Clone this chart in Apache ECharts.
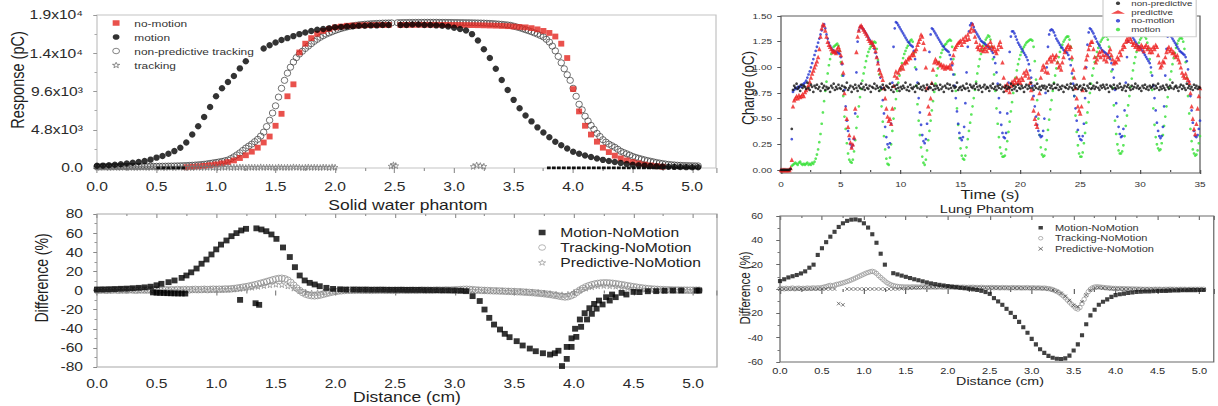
<!DOCTYPE html>
<html>
<head>
<meta charset="utf-8">
<title>Ion chamber response with and without motion</title>
<script src="https://cdn.jsdelivr.net/npm/echarts@6/dist/echarts.min.js"></script>
<style>
  html, body { margin: 0; padding: 0; background: #fff; overflow: hidden; }
  /* the figure is laid out narrow and widened horizontally */
  #chart { width: 974.4px; height: 406px; transform: scaleX(1.25); transform-origin: 0 0; }
</style>
</head>
<body>
<div id="chart"></div>
<script>
// ---------- Solid water phantom: response profiles (pC) vs distance (cm) ----------
const respMotionStart = 0, respMotionStep = 0.05;
const respMotion = [
  280,300,340,400,470,560,650,760,880,1050,
  1300,1500,1780,2120,2550,3200,4200,5250,6400,7650,
  9000,10000,10800,11550,12500,13400,null,null,15000,15400,
  15750,16050,16300,16550,16800,17000,17200,17350,17450,17550,
  17650,17700,17750,17800,17850,17850,17900,17900,17950,17950,
  null,17950,17950,18000,18000,17950,17950,17900,17850,17750,
  17600,17450,17250,16800,16000,14900,13800,12450,11050,9800,
  8550,7500,6600,5850,5100,4450,3850,3300,2850,2450,
  2050,1800,1580,1380,1180,1020,880,750,620,510,
  420,350,300,260,220,190,160,140,120,110,
  100,100
];
// stretches of motion readings that sit on the floor (x ranges, value 0)
const respMotionFloor = [[0.50, 0.74], [3.78, 5.05]];

const respNoMotionStart = 0.75, respNoMotionStep = 0.05;
const respNoMotion = [
  100,150,200,270,350,450,580,740,950,1250,
  1600,2050,2550,3200,3950,5300,6800,9000,10500,14500,
  15600,16300,16850,17200,17450,17650,17750,17850,17880,17900,
  17920,17930,17940,17950,17950,null,17950,17960,17960,17970,
  17970,17970,17970,17960,17960,17950,17950,17940,17930,17920,
  17900,17880,17860,17830,17800,17750,17700,17650,17550,17400,
  17200,16950,16500,15600,13800,9900,7100,5300,4200,3300,
  2550,2000,1550,1200,950,750,580,430,320,230,
  160
];

const respNonPredStart = 0, respNonPredStep = 0.025;
const respNonPred = [
  150,150,155,160,160,165,170,170,175,180,180,185,190,190,195,200,200,205,210,210,
  215,220,225,230,240,245,255,265,275,290,305,325,345,370,400,430,470,520,580,640,
  700,760,830,910,1000,1180,1400,1640,1900,2200,2500,2750,3000,3300,3600,4000,4500,5200,6000,6900,
  7800,8900,10000,11000,11900,12650,13300,13850,14300,14650,15000,15300,15600,15900,16150,16400,16600,16800,16950,17100,
  17250,17380,17500,17600,17700,17780,17850,17910,17960,18000,18040,18070,18100,18120,18140,18160,18180,18190,18200,18210,
  null,18230,18240,18250,18250,18260,18260,18270,18270,18270,18280,18280,18280,18280,18280,18270,18270,18270,18260,18260,
  18250,18250,18240,18240,18230,18230,18220,18210,18200,18190,18180,18160,18140,18120,18090,18060,18030,17990,17950,17900,
  17800,17700,17600,17480,17350,17230,17100,16950,16800,16630,16450,16150,15800,15300,14700,14000,13200,12450,11700,11000,
  10000,9000,8000,7300,6500,5900,5350,4850,4350,3950,3550,3250,3000,2800,2600,2350,2100,1930,1780,1620,
  1450,1330,1220,1120,1020,930,850,770,690,620,560,500,450,410,380,350,330,310,300,290,
  280,270,260
];

const respTrackingStart = 0, respTrackingStep = 0.025;
const respTracking = [
  120,80,150,100,60,130,90,110,70,140,100,80,120,60,110,90,130,70,100,150,
  80,120,90,60,140,100,70,110,130,80,90,120,60,100,140,70,110,90,130,80,
  100,60,120,90,140,70,110,80,130,100,60,120,90,110,70,140,80,100,120,90,
  60,130,100,80,110,70,140,90,120,60,100,130,80,110,90,70,120,100,60,140,
  100
];
const respTrackingExtraX = [2.47, 2.49, 2.51, 3.16, 3.19, 3.22, 3.25];
const respTrackingExtraY = [250, 400, 300, 200, 380, 300, 220];

const respTickValues = [0, 4800, 9600, 14400, 19200];
const respTickLabels = ['0.0', '4.8x10\u00b3', '9.6x10\u00b3', '1.4x10\u2074', '1.9x10\u2074'];

// ---------- Solid water phantom: differences (%) ----------
const swMotionDiffX = [
  0.00,0.05,0.10,0.15,0.20,0.25,0.30,0.35,0.40,0.45,
  0.47,0.50,0.53,0.56,0.59,0.62,0.65,0.68,0.71,0.74,
  0.50,0.54,0.60,0.65,0.71,0.75,0.79,0.835,0.877,0.918,0.96,1.00,1.04,1.086,1.128,1.17,1.21,1.25,
  1.337,1.379,1.42,1.463,1.505,1.56,1.617,1.66,1.70,1.742,1.784,1.826,1.868,1.924,1.98,2.04,2.09,2.15,2.20,2.25,
  2.30,2.35,2.40,2.45,2.50,2.55,2.60,2.65,2.70,2.75,2.80,2.85,2.90,2.95,3.00,3.05,
  1.20,1.33,1.36,
  3.096,3.15,3.21,3.25,3.29,3.33,3.38,3.42,3.46,3.52,3.57,3.63,3.68,3.74,3.80,3.84,3.87,
  3.90,3.94,3.98,4.02,4.06,4.11,4.15,4.19,4.24,4.30,4.35,4.44,4.55,4.69,4.83,5.03,
  3.94,3.98,4.01,4.05,4.09,4.13,4.17,4.21,4.27,4.32,4.40,4.50,4.62,4.76,4.90,5.05
];
const swMotionDiffY = [
  1.0,1.1,1.3,1.5,1.8,2.0,2.4,2.8,3.3,4.0,
  -2.0,-2.3,-2.5,-2.6,-2.8,-2.9,-3.0,-3.1,-3.1,-3.2,
  5.5,7.0,8.7,10.5,13.2,15.7,19.0,23.0,28.0,32.4,37.7,43.0,48.0,52.3,56.8,60.0,62.8,64.5,
  65.0,63.8,62.0,58.6,54.0,45.0,35.0,24.4,15.7,10.5,8.0,6.3,4.5,2.8,1.7,1.3,1.0,1.0,0.9,0.9,
  0.8,0.8,0.8,0.7,0.7,0.7,0.6,0.6,0.6,0.5,0.5,0.4,0.3,0.2,0.0,-0.3,
  -9.8,-13.3,-15.0,
  -0.7,-5.9,-11.0,-19.9,-28.6,-35.6,-40.8,-45.3,-48.8,-53.0,-57.5,-60.7,-63.5,-65.6,-67.0,-65.6,-63.0,
  -79.0,-71.5,-59.0,-48.5,-38.0,-30.3,-24.4,-19.0,-14.6,-10.5,-7.0,-4.2,-1.7,-0.7,0.0,0.0,
  -59.0,-50.0,-40.0,-30.3,-23.7,-18.5,-14.0,-10.5,-7.0,-4.2,-2.5,-1.5,-0.8,-0.3,0.0,0.0
];

const swTrackDiffStart = 0, swTrackDiffStep = 0.025;
const swTrackDiff = [
  0.5,0.3,0.6,0.2,0.5,0.4,0.7,0.3,0.5,0.6,0.4,0.8,0.5,0.3,0.6,0.7,0.4,0.6,0.5,0.8,
  0.6,0.4,0.7,0.9,0.5,0.8,0.6,1.0,0.7,0.9,1.1,0.8,1.0,1.2,0.9,1.1,1.3,1.0,1.2,1.4,
  1.2,1.4,1.3,1.6,1.5,1.8,2.1,2.5,3.0,3.5,4.0,4.6,5.3,6.0,6.8,7.6,8.5,9.4,10.3,11.2,
  12.0,12.6,12.8,12.2,10.8,8.5,5.5,2.5,0.0,-2.2,-3.8,-4.8,-5.4,-5.6,-5.3,-4.7,-3.9,-3.1,-2.3,-1.6,
  -1.0,-0.6,-0.3,0.0,0.2,0.3,0.2,0.4,0.3,0.2,0.4,0.3,0.1,0.3,0.2,0.4,0.3,0.2,0.3,0.1,
  0.3,0.2,0.4,0.3,0.2,0.3,0.4,0.2,0.3,0.5,0.3,0.4,0.2,0.3,0.5,0.4,0.3,0.6,0.4,0.5,
  0.7,0.8,1.0,1.2,1.3,1.1,0.9,0.6,0.4,0.2,0.1,0.0,-0.2,-0.3,-0.4,-0.5,-0.6,-0.8,-0.9,-1.0,
  -1.1,-1.3,-1.4,-1.6,-1.8,-2.0,-2.2,-2.5,-2.8,-3.1,-3.4,-3.8,-4.2,-4.7,-5.2,-5.8,-6.4,-6.8,-6.5,-5.5,
  -4.0,-1.8,0.4,2.2,3.8,5.0,6.0,6.8,7.4,7.8,8.0,8.0,7.8,7.5,7.1,6.6,6.1,5.6,5.0,4.5,
  4.0,3.5,3.0,2.6,2.2,1.9,1.6,1.4,1.2,1.0,0.9,0.8,0.7,0.6,0.5,0.5,0.4,0.4,0.3,0.3,
  0.3,0.3,0.3
];

const swPredDiffStart = 0, swPredDiffStep = 0.05;
const swPredDiff = [
  0.2,0.3,0.1,0.4,0.2,0.3,0.5,0.2,0.4,0.3,
  0.4,0.3,0.5,0.4,0.6,0.5,0.7,0.6,0.8,0.7,
  0.9,1.0,1.2,1.5,2.0,2.6,3.4,4.3,5.2,6.0,
  6.6,6.2,4.8,2.5,0.0,-1.8,-2.6,-2.4,-1.6,-0.8,
  -0.3,0.0,0.2,0.1,0.3,0.2,0.1,0.3,0.2,0.2,
  0.1,0.3,0.2,0.2,0.3,0.1,0.2,0.3,0.2,0.4,
  0.5,0.7,0.5,0.3,0.1,-0.1,-0.3,-0.4,-0.6,-0.8,
  -1.0,-1.2,-1.5,-1.8,-2.2,-2.7,-3.3,-4.0,-4.5,-4.0,
  -2.0,0.5,2.5,4.0,5.0,5.3,5.0,4.5,3.8,3.0,
  2.4,1.8,1.4,1.0,0.8,0.6,0.5,0.4,0.3,0.3,
  0.2,0.2
];

// ---------- Lung phantom: charge (pC) vs time (s), 0.1 s sampling ----------
const lungStep = 0.1;
const lungNonPredStart = 0;
const lungNonPred = [
  0,0,0,0,0,0,0,0,0.01,0.40,
  0.78,0.82,0.80,0.84,0.79,0.81,0.77,0.83,0.80,0.82,
  0.81,0.79,0.85,0.80,0.78,0.83,0.81,0.76,0.82,0.80,
  0.83,0.79,0.81,0.77,0.84,0.80,0.82,0.78,0.81,0.79,
  0.80,0.76,0.82,0.80,0.84,0.78,0.81,0.79,0.83,0.80,
  0.79,0.82,0.77,0.81,0.80,0.85,0.78,0.80,0.82,0.76,
  0.81,0.79,0.83,0.80,0.77,0.82,0.80,0.84,0.79,0.81,
  0.78,0.83,0.80,0.79,0.82,0.76,0.81,0.80,0.84,0.79,
  0.82,0.80,0.77,0.81,0.79,0.83,0.80,0.78,0.82,0.81,
  0.80,0.84,0.78,0.81,0.76,0.82,0.79,0.83,0.80,0.77,
  0.81,0.79,0.82,0.80,0.85,0.78,0.81,0.77,0.83,0.80,
  0.79,0.81,0.76,0.82,0.80,0.84,0.79,0.81,0.78,0.82,
  0.80,0.77,0.83,0.79,0.81,0.80,0.84,0.78,0.82,0.79,
  0.82,0.80,0.78,0.83,0.79,0.81,0.76,0.82,0.80,0.84,
  0.79,0.83,0.80,0.77,0.82,0.80,0.81,0.85,0.78,0.80,
  0.81,0.78,0.82,0.80,0.79,0.84,0.80,0.77,0.83,0.81,
  0.80,0.82,0.79,0.84,0.81,0.78,0.82,0.80,0.76,0.81,
  0.83,0.79,0.81,0.80,0.77,0.82,0.80,0.84,0.79,0.81,
  0.78,0.82,0.80,0.83,0.79,0.81,0.76,0.80,0.82,0.79,
  0.81,0.80,0.84,0.78,0.82,0.79,0.81,0.77,0.83,0.80,
  0.79,0.82,0.80,0.76,0.81,0.83,0.79,0.82,0.80,0.85,
  0.80,0.78,0.82,0.80,0.84,0.79,0.81,0.78,0.82,0.80,
  0.82,0.79,0.81,0.77,0.83,0.80,0.82,0.79,0.84,0.80,
  0.80,0.83,0.78,0.81,0.79,0.82,0.76,0.81,0.80,0.83,
  0.79,0.81,0.84,0.80,0.78,0.82,0.80,0.83,0.79,0.81,
  0.82,0.78,0.80,0.83,0.79,0.77,0.82,0.80,0.84,0.79,
  0.80,0.82,0.79,0.81,0.85,0.80,0.78,0.82,0.80,0.83,
  0.81,0.79,0.83,0.80,0.76,0.82,0.81,0.79,0.83,0.80,
  0.79,0.82,0.80,0.84,0.81,0.78,0.80,0.82,0.77,0.81,
  0.83,0.80,0.78,0.82,0.79,0.81,0.84,0.80,0.82,0.79,
  0.80,0.77,0.82,0.80,0.83,0.79,0.81,0.78,0.82,0.80,
  0.81,0.83,0.79,0.82,0.80,0.84,0.78,0.81,0.79,0.82,
  0.80,0.78,0.83,0.81,0.79,0.82,0.80,0.85,0.79,0.81,
  0.82,0.80,0.77,0.81,0.83,0.79,0.82,0.80,0.78,0.84,
  0.80,0.82,0.79,0.81,0.78,0.83,0.80,0.82,0.79,0.81,
  0.80
];

const lungPredStart = 0;
const lungPred = [
  0,0,0,0,0,0,0,0,0.02,0.10,
  0.62,0.68,0.70,0.72,0.70,0.73,0.71,0.72,0.74,0.72,
  0.76,0.78,0.80,0.83,0.86,0.90,0.94,0.97,1.00,1.03,
  1.06,1.10,1.18,1.30,1.38,1.42,1.41,1.36,1.30,1.25,
  1.22,1.20,1.18,1.16,1.15,1.16,1.14,1.18,1.20,1.17,
  1.12,1.05,0.95,0.75,0.60,0.50,0.42,0.34,0.27,0.22,
  0.25,0.32,0.60,1.15,1.30,1.36,1.40,1.41,1.39,1.37,
  1.35,1.33,1.31,1.28,1.26,1.24,1.25,1.22,1.20,1.16,
  1.10,1.04,0.98,0.95,0.92,0.88,0.80,0.70,0.60,0.52,
  0.48,0.50,0.45,0.60,0.82,0.92,0.96,0.90,0.95,0.98,
  1.00,1.02,0.99,1.04,1.06,1.05,1.08,1.10,1.09,1.12,
  1.14,1.12,1.16,1.18,1.22,1.25,1.28,1.32,1.30,1.24,
  1.18,1.00,0.80,0.62,0.55,0.70,0.85,0.98,1.05,1.08,
  1.06,1.04,1.05,1.02,1.03,1.00,1.02,0.99,1.01,1.00,
  1.00,1.02,0.99,1.05,1.12,1.18,1.20,1.22,1.24,1.25,
  1.26,1.22,1.28,1.25,1.30,1.27,1.32,1.28,1.35,1.38,
  1.42,1.36,1.30,1.25,1.20,1.18,1.22,1.17,1.20,1.16,
  1.18,1.20,1.16,1.22,1.19,1.25,1.21,1.18,1.20,1.16,
  1.14,1.18,1.22,1.25,1.20,1.05,0.90,0.82,0.78,0.84,
  0.80,0.76,0.82,0.86,0.84,0.88,0.85,0.90,0.86,0.88,
  0.85,0.90,0.88,0.95,0.92,0.97,0.94,0.90,0.85,0.78,
  0.70,0.58,0.50,0.45,0.42,0.55,0.75,0.90,0.98,1.02,
  1.00,0.96,1.05,0.95,1.08,1.10,1.06,1.12,1.08,1.10,
  1.12,1.05,1.00,1.02,0.98,1.05,1.10,1.15,1.18,1.20,
  1.22,1.18,1.20,1.10,0.98,0.90,0.80,0.70,0.62,0.58,
  0.55,0.62,0.78,0.90,1.00,1.08,1.12,1.18,1.22,1.25,
  1.25,1.18,1.10,1.05,1.08,1.12,1.15,1.10,1.16,1.12,
  1.08,1.12,1.06,1.10,1.15,1.18,1.12,1.08,1.04,1.06,
  1.05,1.10,1.08,1.15,1.12,1.18,1.22,1.20,1.25,1.28,
  1.26,1.30,1.28,1.25,1.22,1.24,1.20,1.22,1.18,1.20,
  1.18,1.22,1.20,1.16,1.20,1.22,1.18,1.20,1.15,1.18,
  1.15,1.20,1.18,1.22,1.20,1.12,1.05,1.00,1.02,1.06,
  1.05,1.10,1.15,1.18,1.20,1.16,1.18,1.14,1.15,1.12,
  1.10,1.12,1.08,1.05,1.00,0.95,0.92,0.90,0.94,0.90,
  0.88,0.85,0.75,0.62,0.50,0.40,0.35,0.45,0.60,0.72,
  0.80
];

const lungNoMotionStart = 0.9;
const lungNoMotion = [
  0.30,
  0.76,0.78,0.80,0.79,0.81,0.80,0.82,0.81,0.83,0.84,
  0.85,0.87,0.90,0.93,0.96,1.00,1.04,1.08,1.12,1.16,
  1.20,1.24,1.28,1.32,1.36,1.40,1.42,1.38,1.32,1.28,
  1.24,1.21,1.19,1.17,1.16,1.15,1.14,1.15,1.14,1.13,
  1.10,1.03,0.92,0.78,0.62,0.48,0.38,0.30,0.25,0.22,
  0.24,0.30,0.55,0.95,1.25,1.36,1.39,1.40,1.38,1.37,
  1.35,1.33,1.31,1.29,1.27,1.25,1.23,1.21,1.18,1.14,
  1.10,1.05,0.98,0.90,0.80,0.68,0.55,0.42,0.32,0.25,
  0.22,0.26,0.45,0.85,1.20,1.38,1.44,1.43,1.41,1.39,
  1.37,1.35,1.33,1.31,1.29,1.27,1.25,1.24,1.22,1.21,
  1.20,1.16,1.08,0.98,0.85,0.70,0.56,0.44,0.34,0.28,
  0.26,0.30,0.45,0.80,1.15,1.32,1.38,1.37,1.35,1.33,
  1.31,1.29,1.27,1.25,1.23,1.21,1.20,1.18,1.17,1.16,
  1.15,1.12,1.08,1.02,0.93,0.82,0.70,0.57,0.45,0.36,
  0.31,0.29,0.32,0.42,0.65,0.95,1.20,1.35,1.41,1.43,
  1.42,1.39,1.36,1.34,1.32,1.30,1.28,1.26,1.25,1.24,
  1.23,1.22,1.21,1.20,1.19,1.18,1.16,1.14,1.10,1.04,
  0.95,0.84,0.70,0.56,0.44,0.36,0.32,0.31,0.36,0.55,
  0.85,1.15,1.30,1.35,1.35,1.33,1.30,1.27,1.24,1.22,
  1.20,1.18,1.16,1.14,1.12,1.10,1.07,1.03,0.97,0.90,
  0.82,0.72,0.62,0.52,0.44,0.38,0.34,0.32,0.33,0.38,
  0.50,0.75,1.00,1.20,1.32,1.36,1.37,1.36,1.34,1.31,
  1.28,1.26,1.24,1.22,1.20,1.19,1.17,1.16,1.15,1.14,
  1.12,1.08,1.02,0.94,0.84,0.72,0.60,0.48,0.39,0.33,
  0.30,0.29,0.33,0.45,0.70,1.00,1.22,1.34,1.38,1.37,
  1.35,1.33,1.30,1.28,1.25,1.23,1.21,1.19,1.17,1.16,
  1.15,1.14,1.13,1.12,1.10,1.08,1.04,0.98,0.90,0.78,
  0.65,0.52,0.42,0.35,0.32,0.33,0.40,0.58,0.85,1.10,
  1.25,1.32,1.33,1.31,1.29,1.27,1.25,1.23,1.21,1.20,
  1.19,1.18,1.16,1.14,1.12,1.10,1.08,1.06,1.04,1.00,
  0.92,0.82,0.70,0.58,0.46,0.38,0.33,0.31,0.33,0.42,
  0.62,0.92,1.18,1.30,1.33,1.32,1.30,1.28,1.26,1.24,
  1.22,1.20,1.18,1.16,1.15,1.14,1.13,1.12,1.10,1.06,
  0.98,0.86,0.72,0.58,0.46,0.38,0.33,0.32,0.34,0.40,
  0.48
];

const lungMotionStart = 0.9;
const lungMotion = [
  0.04,
  0.05,0.06,0.07,0.06,0.05,0.07,0.08,0.06,0.05,0.06,
  0.05,0.06,0.07,0.05,0.06,0.05,0.07,0.06,0.08,0.11,
  0.15,0.20,0.27,0.35,0.45,0.56,0.67,0.77,0.86,0.94,
  1.02,1.08,1.13,1.17,1.20,1.21,1.22,1.23,1.21,1.16,
  1.05,0.92,0.72,0.52,0.40,0.26,0.16,0.10,0.08,0.07,
  0.10,0.18,0.29,0.41,0.52,0.62,0.71,0.79,0.87,0.94,
  1.00,1.06,1.11,1.15,1.18,1.20,1.22,1.24,1.25,1.24,
  1.18,1.07,0.93,0.78,0.62,0.47,0.33,0.20,0.11,0.06,
  0.05,0.12,0.25,0.38,0.50,0.60,0.69,0.77,0.85,0.92,
  0.98,1.04,1.09,1.13,1.16,1.19,1.21,1.24,1.26,1.27,
  1.25,1.14,1.00,0.82,0.64,0.48,0.34,0.22,0.13,0.07,
  0.05,0.10,0.19,0.29,0.38,0.48,0.58,0.67,0.76,0.84,
  0.92,0.99,1.05,1.10,1.14,1.17,1.20,1.22,1.23,1.25,
  1.26,1.27,1.26,1.20,1.08,0.93,0.77,0.60,0.44,0.31,
  0.21,0.14,0.11,0.10,0.14,0.22,0.30,0.38,0.46,0.54,
  0.62,0.70,0.78,0.86,0.94,1.01,1.08,1.13,1.17,1.21,
  1.24,1.27,1.29,1.31,1.30,1.27,1.20,1.08,0.93,0.77,
  0.60,0.45,0.32,0.22,0.16,0.13,0.13,0.14,0.20,0.28,
  0.37,0.47,0.57,0.66,0.75,0.83,0.90,0.97,1.03,1.08,
  1.12,1.15,1.18,1.20,1.22,1.24,1.25,1.26,1.27,1.27,
  1.26,1.20,1.06,0.88,0.68,0.50,0.34,0.22,0.15,0.13,
  0.14,0.20,0.29,0.39,0.49,0.59,0.68,0.77,0.85,0.92,
  0.99,1.05,1.10,1.15,1.19,1.22,1.25,1.27,1.29,1.30,
  1.30,1.27,1.20,1.07,0.90,0.72,0.53,0.37,0.24,0.16,
  0.13,0.13,0.17,0.26,0.36,0.46,0.56,0.66,0.75,0.84,
  0.92,0.99,1.05,1.10,1.15,1.19,1.22,1.25,1.27,1.29,
  1.30,1.31,1.30,1.27,1.20,1.10,0.96,0.80,0.63,0.48,
  0.35,0.25,0.19,0.16,0.16,0.18,0.24,0.33,0.43,0.53,
  0.63,0.72,0.81,0.89,0.97,1.04,1.10,1.15,1.20,1.24,
  1.27,1.29,1.31,1.31,1.30,1.28,1.24,1.18,1.08,0.95,
  0.78,0.60,0.44,0.32,0.25,0.21,0.19,0.20,0.26,0.34,
  0.43,0.52,0.62,0.71,0.80,0.88,0.96,1.03,1.09,1.14,
  1.19,1.23,1.26,1.28,1.29,1.28,1.25,1.18,1.05,0.90,
  0.72,0.55,0.40,0.28,0.20,0.16,0.14,0.15,0.19,0.26,
  0.33
];
const lungChargeTicks = [0, 0.25, 0.5, 0.75, 1.0, 1.25, 1.5];

// ---------- Lung phantom: differences (%) ----------
const lungMotionDiffStart = 0, lungMotionDiffStep = 0.05;
const lungMotionDiff = [
  6.5,8,9.5,10.5,11.5,12.8,14.5,17.5,20,28,
  33.5,38.5,43,47,51,54,56,57,57.2,56.5,
  54,50.5,45,38,29,20,null,13,12,11,
  10,9,8,7.2,6.3,5.4,4.6,4,3.4,2.9,
  2.4,1.9,1.5,1,0.6,0.2,-0.3,-0.8,-1.5,-2.5,
  -4,-7.5,-10.2,-13,-16.3,-19.6,-23,-27,-31.4,-36,
  -41,-45.5,-49.5,-52.5,-55,-56.5,-57.3,-57.5,-57,-54.8,
  -50.5,-45.5,-38,-29,-21.7,-17,-13,-10.5,-8.5,-6.5,
  -5,-4.3,-3.8,-3.3,-2.9,-2.5,-2.3,-2.1,-2,-1.9,
  -1.7,-1.6,-1.5,-1.3,-1.2,-1.1,-1,-1,-0.9,-0.9,
  -0.8,-0.8
];

const lungTrackDiffStart = 0, lungTrackDiffStep = 0.025;
const lungTrackDiff = [
  0.2,0.5,0.1,0.6,0.3,0.4,0.8,0.2,0.5,0.7,0.3,0.6,0.4,0.8,0.5,0.7,0.9,0.6,1.0,0.8,
  1.2,1.6,2.0,2.6,3.0,2.5,3.2,3.8,4.0,4.6,5.0,5.6,6.2,6.8,7.5,8.2,9.0,9.8,10.6,11.4,
  12.2,13.0,13.6,14.2,14.5,14.0,12.8,11.0,9.5,8.0,6.6,5.2,4.2,3.4,2.8,2.4,2.1,1.9,1.8,1.7,
  1.6,1.7,1.5,1.8,1.6,1.7,1.5,1.6,1.8,1.6,1.7,1.5,1.6,1.7,1.5,1.6,1.8,1.6,1.5,1.7,
  1.6,1.5,1.7,1.4,1.6,1.5,1.3,1.5,1.4,1.2,1.4,1.3,1.5,1.2,1.3,1.1,1.4,1.2,1.0,1.2,
  1.1,1.3,1.0,1.2,1.1,0.9,1.2,1.0,1.1,0.9,1.0,1.2,0.9,1.0,1.1,0.8,1.0,0.9,1.1,0.8,
  0.9,1.0,0.7,0.9,0.8,0.6,0.8,0.5,0.3,0.0,-0.5,-1.2,-2.0,-3.0,-4.2,-5.6,-7.2,-9.0,-10.8,-12.5,
  -14.0,-15.8,-16.5,-15.2,-12.0,-8.5,-5.0,-2.2,-0.2,1.0,1.6,1.8,1.7,1.5,1.3,1.1,0.9,0.8,0.6,0.5,
  0.5,0.3,0.4,0.2,0.3,0.1,0.2,0.0,0.1,-0.1,0.0,-0.2,-0.1,-0.3,-0.2,-0.3,-0.2,-0.4,-0.3,-0.2,
  -0.3,-0.2,-0.4,-0.3,-0.2,-0.3,-0.1,-0.3,-0.2,-0.4,-0.3,-0.2,-0.3,-0.2,-0.4,-0.3,-0.2,-0.3,-0.2,-0.3,
  -0.2,-0.3,-0.2
];

const lungPredDiffStart = 0, lungPredDiffStep = 0.05;
const lungPredDiff = [
  0,0,0,0,0,0,0,0,0,0,
  0,0,0,0,-12,-13,0,0,0,0,
  0,0,0,0,0,0,0,0,0,0.3,
  0.5,0.8,1.0,1.2,1.3,1.4,1.5,1.5,1.6,1.6,
  1.5,1.5,1.4,1.3,1.3,1.2,1.2,1.1,1.1,1.0,
  1.0,1.0,0.9,0.9,0.9,0.8,0.8,0.8,0.7,0.7,
  0.7,0.6,0.6,0.4,0.0,-0.8,-2.0,-3.6,-6.0,-9.5,
  -13.5,-14.5,-10.5,-5.0,-1.0,0.8,1.2,0.8,0.5,0.3,
  0.2,0.1,0.0,0.0,-0.1,-0.1,-0.2,-0.2,-0.2,-0.3,
  -0.3,-0.3,-0.3,-0.2,-0.3,-0.2,-0.3,-0.2,-0.3,-0.2,
  -0.2,-0.2
];

// ---------- helpers that turn the arrays into [x, y] points ----------
function sampled(x0, dx, ys) {
  const pts = [];
  ys.forEach((y, i) => { if (y !== null) pts.push([+(x0 + i * dx).toFixed(4), y]); });
  return pts;
}
function paired(xs, ys) { return xs.map((x, i) => [x, ys[i]]); }

// horizontal layout is written in page pixels and mapped into the narrow canvas
const WIDEN = 1.25;
const X = px => px / WIDEN;

const FONT = '"Liberation Sans", Arial, Helvetica, sans-serif';
const SQUARE = 'path://M0,0H10V10H0Z';
const RING = 'path://M0,5A5,5,0,1,1,10,5A5,5,0,1,1,0,5Z';
const STAR = 'path://M0,-10L2.35,-3.24L9.51,-3.09L3.8,1.24L5.88,8.09L0,4L-5.88,8.09L-3.8,1.24L-9.51,-3.09L-2.35,-3.24Z';
const CROSS = 'path://M0,0L10,10M10,0L0,10';
const hollow = (stroke, w) => ({ color: 'rgba(0,0,0,0)', borderColor: stroke, borderWidth: w });

function distanceAxis(gridIndex, max, fontSize, margin, tickColor) {
  return {
    type: 'value', gridIndex, min: 0, max, interval: 0.5,
    axisLine: { show: false },
    axisTick: { show: true, inside: false, length: 5, lineStyle: { color: tickColor } },
    minorTick: { show: true, splitNumber: 2, length: 3, lineStyle: { color: tickColor } },
    splitLine: { show: false },
    axisLabel: {
      fontFamily: FONT, fontSize, color: '#2a2a2a', margin,
      formatter: v => (v > 5.01 ? '' : v.toFixed(1))
    }
  };
}
function topTicks(gridIndex, max, tickColor) {
  return {
    type: 'value', gridIndex, position: 'top', min: 0, max, interval: 0.5,
    axisLine: { show: false },
    axisTick: { show: true, inside: true, length: 4, lineStyle: { color: tickColor } },
    minorTick: { show: true, splitNumber: 2, length: 2, lineStyle: { color: tickColor } },
    axisLabel: { show: false }, splitLine: { show: false }
  };
}
function text(str, xPage, y, size, rotate) {
  return {
    type: 'text', x: X(xPage), y, rotation: rotate ? Math.PI / 2 : 0, silent: true,
    style: {
      text: str, font: size + 'px ' + FONT, fill: '#1e1e1e',
      align: 'center', verticalAlign: 'middle', textAlign: 'center', textVerticalAlign: 'middle'
    }
  };
}

const option = {
  animation: false,
  backgroundColor: '#fff',
  grid: [
    { left: X(97), top: 15, width: X(619), height: 153, show: true, borderColor: '#c4c4c4', borderWidth: 1 },
    { left: X(97), top: 214, width: X(620), height: 153, show: true, borderColor: '#a8a8a8', borderWidth: 1 },
    { left: X(781), top: 16, width: X(419), height: 157, show: true, borderColor: '#5a5a5a', borderWidth: 1 },
    { left: X(780), top: 216, width: X(437), height: 146, show: true, borderColor: '#6a6a6a', borderWidth: 1 }
  ],
  xAxis: [
    distanceAxis(0, 5.2, 12.5, 12, '#999'),
    distanceAxis(1, 5.2, 12.5, 10, '#888'),
    {
      type: 'value', gridIndex: 2, min: 0, max: 35, interval: 5,
      axisLine: { show: false },
      axisTick: { show: true, length: 4, lineStyle: { color: '#555' } },
      minorTick: { show: true, splitNumber: 2, length: 2, lineStyle: { color: '#555' } },
      splitLine: { show: false },
      axisLabel: { fontFamily: FONT, fontSize: 8, color: '#333', margin: 7 }
    },
    distanceAxis(3, 5.17, 8.8, 4, '#666'),
    topTicks(1, 5.2, '#999'),
    topTicks(3, 5.17, '#777')
  ],
  yAxis: [
    {
      type: 'value', gridIndex: 0, min: 0, max: 19200, interval: 4800,
      axisLine: { show: false },
      axisTick: { show: true, length: 3, lineStyle: { color: '#999' } },
      minorTick: { show: true, splitNumber: 2, length: 2, lineStyle: { color: '#aaa' } },
      splitLine: { show: false },
      axisLabel: {
        fontFamily: FONT, fontSize: 12.5, color: '#2a2a2a', margin: X(14),
        formatter: v => { const k = respTickValues.indexOf(v); return k < 0 ? '' : respTickLabels[k]; }
      }
    },
    {
      type: 'value', gridIndex: 1, min: -80, max: 80, interval: 20,
      axisLine: { show: false },
      axisTick: { show: true, length: 3, lineStyle: { color: '#888' } },
      minorTick: { show: true, splitNumber: 2, length: 2, lineStyle: { color: '#999' } },
      splitLine: { show: false },
      axisLabel: { fontFamily: FONT, fontSize: 12.5, color: '#2a2a2a', margin: X(14) }
    },
    {
      type: 'value', gridIndex: 2, min: -0.03, max: 1.5,
      axisLine: { show: false },
      axisTick: { show: true, length: 3, customValues: lungChargeTicks, lineStyle: { color: '#555' } },
      splitLine: { show: false },
      axisLabel: {
        fontFamily: FONT, fontSize: 8, color: '#333', margin: X(9),
        customValues: lungChargeTicks, formatter: v => v.toFixed(2)
      }
    },
    {
      type: 'value', gridIndex: 3, min: -60, max: 60, interval: 20,
      axisLine: { show: false },
      axisTick: { show: true, length: 3, lineStyle: { color: '#666' } },
      minorTick: { show: true, splitNumber: 2, length: 2, lineStyle: { color: '#777' } },
      splitLine: { show: false },
      axisLabel: { fontFamily: FONT, fontSize: 8.5, color: '#333', margin: X(17) }
    }
  ],
  legend: [
    {
      orient: 'vertical', left: X(112), top: 17, padding: 0, itemGap: 2,
      itemWidth: X(24), itemHeight: 5.5,
      textStyle: { fontFamily: FONT, fontSize: 9.5, lineHeight: 12, color: '#333' },
      data: [
        'no-motion', 'motion',
        { name: 'non-predictive tracking', itemStyle: hollow('#555', 0.8) },
        { name: 'tracking', itemStyle: hollow('#666', 0.8) }
      ]
    },
    {
      orient: 'vertical', left: X(538), top: 225, padding: 0, itemGap: 0,
      itemWidth: X(24), itemHeight: 5.5,
      textStyle: { fontFamily: FONT, fontSize: 12.5, lineHeight: 15, color: '#222' },
      formatter: n => n.slice(3),
      data: [
        'sw Motion-NoMotion',
        { name: 'sw Tracking-NoMotion', itemStyle: hollow('#999', 0.8) },
        { name: 'sw Predictive-NoMotion', itemStyle: hollow('#999', 0.8) }
      ]
    },
    {
      orient: 'vertical', left: X(1103), top: -3, padding: [2, 3, 3, X(8)], itemGap: 0,
      itemWidth: X(14), itemHeight: 3.5,
      borderColor: '#cfcfcf', borderWidth: 1, backgroundColor: '#fff',
      textStyle: { fontFamily: FONT, fontSize: 7.8, lineHeight: 8.7, color: '#333' },
      formatter: n => n.slice(3),
      data: ['lp non-predictive', 'lp predictive', 'lp no-motion', 'lp motion']
    },
    {
      orient: 'vertical', left: X(1038), top: 222.5, padding: 0, itemGap: 0,
      itemWidth: X(16), itemHeight: 3.5,
      textStyle: { fontFamily: FONT, fontSize: 8.8, lineHeight: 10.5, color: '#333' },
      formatter: n => n.slice(3),
      data: [
        'ld Motion-NoMotion',
        { name: 'ld Tracking-NoMotion', itemStyle: hollow('#888', 0.7) },
        { name: 'ld Predictive-NoMotion', itemStyle: hollow('#444', 0.8) }
      ]
    }
  ],
  series: [
    // solid water response
    {
      name: 'non-predictive tracking', type: 'scatter', xAxisIndex: 0, yAxisIndex: 0,
      symbol: RING, symbolSize: [5.2, 6.2], itemStyle: hollow('#3a3a3a', 0.8),
      data: sampled(respNonPredStart, respNonPredStep, respNonPred)
    },
    {
      name: 'no-motion', type: 'scatter', xAxisIndex: 0, yAxisIndex: 0,
      symbol: SQUARE, symbolSize: [4.8, 5.8], itemStyle: { color: '#e3261f' },
      data: sampled(respNoMotionStart, respNoMotionStep, respNoMotion)
    },
    {
      name: 'tracking', type: 'scatter', xAxisIndex: 0, yAxisIndex: 0,
      symbol: STAR, symbolSize: [4.6, 6], itemStyle: hollow('#777', 0.8),
      data: sampled(respTrackingStart, respTrackingStep, respTracking)
        .concat(paired(respTrackingExtraX, respTrackingExtraY))
    },
    ...respMotionFloor.map(([a, b]) => ({
      name: 'motion floor', type: 'line', xAxisIndex: 0, yAxisIndex: 0,
      symbol: 'none', silent: true,
      lineStyle: { color: '#111', width: 3, type: [3, 1] },
      data: [[a, 0], [b, 0]]
    })),
    {
      name: 'motion', type: 'scatter', xAxisIndex: 0, yAxisIndex: 0,
      symbol: 'circle', symbolSize: [5.2, 6.4], itemStyle: { color: '#000' },
      data: sampled(respMotionStart, respMotionStep, respMotion)
    },

    // solid water differences
    {
      name: 'sw Tracking-NoMotion', type: 'scatter', xAxisIndex: 1, yAxisIndex: 1,
      symbol: RING, symbolSize: [5.4, 6.6], itemStyle: hollow('#8a8a8a', 0.8),
      data: sampled(swTrackDiffStart, swTrackDiffStep, swTrackDiff)
    },
    {
      name: 'sw Predictive-NoMotion', type: 'scatter', xAxisIndex: 1, yAxisIndex: 1,
      symbol: STAR, symbolSize: [4.6, 6], itemStyle: hollow('#888', 0.8),
      data: sampled(swPredDiffStart, swPredDiffStep, swPredDiff)
    },
    {
      name: 'sw Motion-NoMotion', type: 'scatter', xAxisIndex: 1, yAxisIndex: 1,
      symbol: SQUARE, symbolSize: [4.8, 5.8], itemStyle: { color: '#000' },
      data: paired(swMotionDiffX, swMotionDiffY)
    },

    // lung phantom charge
    {
      name: 'lp motion', type: 'scatter', xAxisIndex: 2, yAxisIndex: 2,
      symbol: 'circle', symbolSize: [2.2, 2.7], itemStyle: { color: '#35e035' },
      data: sampled(lungMotionStart, lungStep, lungMotion)
    },
    {
      name: 'lp no-motion', type: 'scatter', xAxisIndex: 2, yAxisIndex: 2,
      symbol: 'circle', symbolSize: [2.2, 2.7], itemStyle: { color: '#1f2fcf' },
      data: sampled(lungNoMotionStart, lungStep, lungNoMotion)
    },
    {
      name: 'lp predictive', type: 'scatter', xAxisIndex: 2, yAxisIndex: 2,
      symbol: 'triangle', symbolSize: [3.6, 4.6], itemStyle: { color: '#ee1f1f' },
      data: sampled(lungPredStart, lungStep, lungPred)
    },
    {
      name: 'lp non-predictive', type: 'scatter', xAxisIndex: 2, yAxisIndex: 2,
      symbol: 'circle', symbolSize: [2.2, 2.7], itemStyle: { color: '#111' },
      data: sampled(lungNonPredStart, lungStep, lungNonPred)
    },

    // lung phantom differences
    {
      name: 'ld Tracking-NoMotion', type: 'scatter', xAxisIndex: 3, yAxisIndex: 3,
      symbol: RING, symbolSize: [3.6, 4.5], itemStyle: hollow('#8a8a8a', 0.7),
      data: sampled(lungTrackDiffStart, lungTrackDiffStep, lungTrackDiff)
    },
    {
      name: 'ld Predictive-NoMotion', type: 'scatter', xAxisIndex: 3, yAxisIndex: 3,
      symbol: CROSS, symbolSize: [2.8, 3.5], itemStyle: hollow('#444', 0.8),
      data: sampled(lungPredDiffStart, lungPredDiffStep, lungPredDiff)
    },
    {
      name: 'ld Motion-NoMotion', type: 'scatter', xAxisIndex: 3, yAxisIndex: 3,
      symbol: SQUARE, symbolSize: [3.3, 4.1], itemStyle: { color: '#111' },
      data: sampled(lungMotionDiffStart, lungMotionDiffStep, lungMotionDiff)
    }
  ],
  graphic: [
    text('Response (pC)', 17, 80, 14.5, true),
    text('Solid water phantom', 408, 205, 14),
    text('Difference (%)', 42, 278, 14, true),
    text('Distance (cm)', 407, 397.5, 14),
    text('Charge (pC)', 748, 88, 13.5, true),
    text('Time (s)', 990, 194.5, 13),
    text('Lung Phantom', 987, 209.5, 11.6),
    text('Difference (%)', 745, 288, 11.5, true),
    text('Distance (cm)', 1000, 381, 11.4)
  ]
};

const chart = echarts.init(document.getElementById('chart'), null, { renderer: 'svg' });
chart.setOption(option);
</script>
</body>
</html>
